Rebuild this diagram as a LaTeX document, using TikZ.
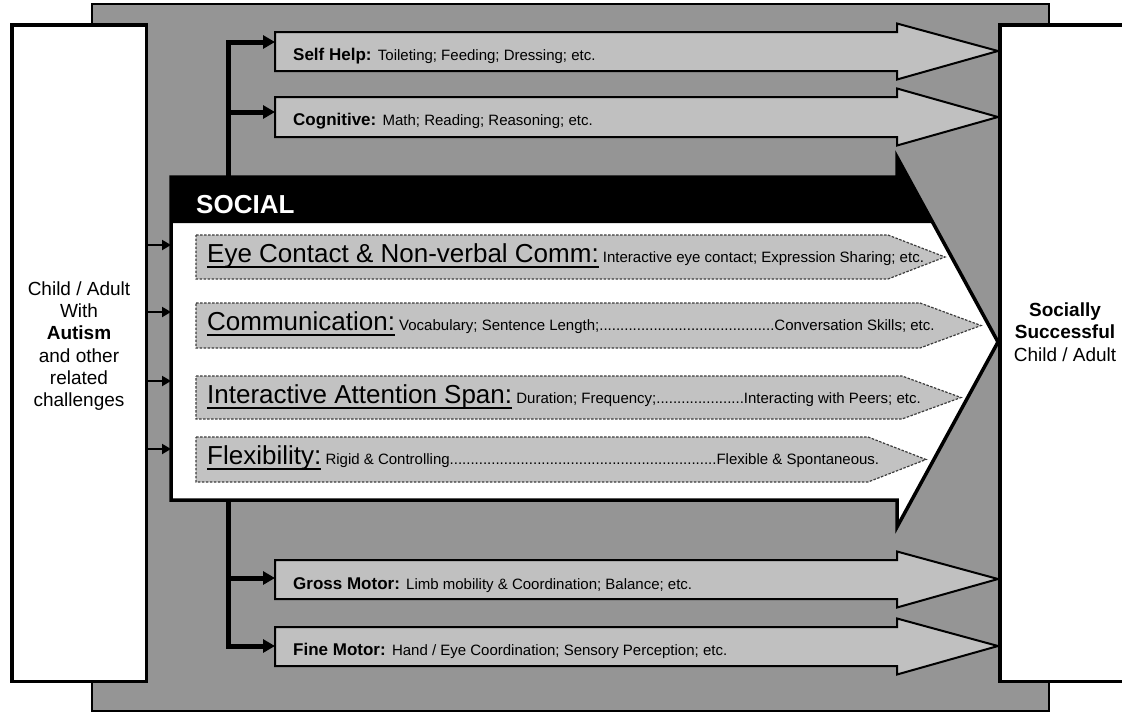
\documentclass[tikz,border=0pt]{standalone}
\usepackage{fontspec}
\setmainfont{Liberation Sans}
\usetikzlibrary{arrows.meta}
\definecolor{framegray}{HTML}{959595}
\definecolor{armgray}{HTML}{C0C0C0}
\definecolor{sigfill}{HTML}{C2C2C2}
\definecolor{sigedge}{HTML}{3C3C3C}
\newcommand\myul[1]{\setbox0\hbox{#1}\rlap{\rule[-5.75pt]{\wd0}{1.6pt}}\box0}
\newcommand\headfont{\fontsize{26}{28}\selectfont}
\newcommand\detfont{\fontsize{15}{17}\selectfont}
\newcommand\armfont{\bfseries\fontsize{17}{19}\selectfont}
\newcommand\drawarm[3]{\draw[armline] (275,#1) -- (897,#1) -- (897,#1-8.5) -- (998,#3) -- (897,#2+8.5) -- (897,#2) -- (275,#2) -- cycle;}
\newcommand\drawsig[4]{\draw[sigline] (196,#1) -- (#3,#1) -- (#4,{(#1+#2)/2}) -- (#3,#2) -- (196,#2) -- cycle;}
\begin{document}
\begin{tikzpicture}[x=1pt,y=-1pt,
  sidebox/.style={draw=black, line width=3.5pt, fill=white, inner sep=0},
  coltext/.style={align=center, font=\fontsize{19}{22.3}\selectfont, inner sep=0},
  armline/.style={draw=black, line width=2pt, fill=armgray, line join=miter},
  sigline/.style={draw=sigedge, line width=1.2pt, dash pattern=on 2.5pt off 1.5pt, fill=sigfill},
  rowtext/.style={anchor=base west, inner sep=0},
  branch/.style={line width=5pt, -{Triangle[length=12pt,width=13pt]}},
  feed/.style={line width=2pt, -{Triangle[length=9pt,width=10pt]}}]
\useasboundingbox (0,0) rectangle (1122,713);
% background frame
\draw[line width=1.2pt, fill=framegray] (92,4) rectangle (1049,711);
% side boxes
\node[sidebox, minimum width=134.5pt, minimum height=656.5pt] (child) at (79,353) {};
\node[sidebox, minimum width=140pt, minimum height=656.5pt] (adult) at (1069.75,353) {};
\node[coltext] (childtxt) at (79,346) {Child / Adult\\With\\\textbf{Autism}\\and other\\related\\challenges};
\node[coltext] (adulttxt) at (1065,332) {\textbf{Socially}\\\textbf{Successful}\\Child / Adult};
% domain arrows
\drawarm{32}{71}{51}
\drawarm{97}{137}{117}
\drawarm{560}{599}{579}
\drawarm{627}{666}{646}
% connection points
\coordinate (socTop) at (228.5,177);
\coordinate (socBot) at (228.5,500);
\coordinate (shIn) at (275,42);
\coordinate (cogIn) at (275,112);
\coordinate (gmIn) at (275,578);
\coordinate (fmIn) at (275,646);
\draw[branch] (socTop) |- (shIn);
\draw[branch] (socTop) |- (cogIn);
\draw[branch] (socBot) |- (gmIn);
\draw[branch] (socBot) |- (fmIn);
% social arrow
\fill[white] (171,177) -- (897,177) -- (897,157) -- (998,342) -- (897,527) -- (897,500) -- (171,500) -- cycle;
\fill[black] (171,177) -- (897,177) -- (897,157) -- (933,223) -- (171,223) -- cycle;
\drawsig{235}{279}{888}{945}
\drawsig{303}{348}{920}{981}
\drawsig{376}{419}{902}{961}
\drawsig{437}{482}{868}{926}
\draw[line width=3.5pt, line join=miter] (171,177) -- (897,177) -- (897,157) -- (998,342) -- (897,527) -- (897,500) -- (171,500) -- cycle;
\node[rowtext, text=white, font=\bfseries\fontsize{26}{28}\selectfont] (social) at (196,213) {SOCIAL};
% feed arrows
\coordinate (in1) at (171,245);
\coordinate (in2) at (171,312);
\coordinate (in3) at (171,381);
\coordinate (in4) at (171,449);
\draw[feed] (child.east |- in1) -- (in1);
\draw[feed] (child.east |- in2) -- (in2);
\draw[feed] (child.east |- in3) -- (in3);
\draw[feed] (child.east |- in4) -- (in4);
% social rows text
\node[rowtext] (eyetxt) at (207,262) {\myul{\headfont Eye Contact \& Non-verbal Comm:}\detfont{} Interactive eye contact; Expression Sharing; etc.};
\node[rowtext] (commtxt) at (207,330) {\myul{\headfont Communication:}\detfont{} Vocabulary; Sentence Length;..........................................Conversation Skills; etc.};
\node[rowtext] (iastxt) at (207,403) {\myul{\headfont Interactive Attention Span:}\detfont{} Duration; Frequency;.....................Interacting with Peers; etc.};
\node[rowtext] (flextxt) at (207,464) {\myul{\headfont Flexibility:}\detfont{} Rigid \& Controlling................................................................Flexible \& Spontaneous.};
% domain texts
\node[rowtext] (shtxt) at (293,60) {\armfont Self Help: \mdseries\detfont Toileting; Feeding; Dressing; etc.};
\node[rowtext] (cogtxt) at (293,125) {\armfont Cognitive: \mdseries\detfont Math; Reading; Reasoning; etc.};
\node[rowtext] (gmtxt) at (293,589) {\armfont Gross Motor: \mdseries\detfont Limb mobility \& Coordination; Balance; etc.};
\node[rowtext] (fmtxt) at (293,655) {\armfont Fine Motor: \mdseries\detfont Hand / Eye Coordination; Sensory Perception; etc.};
\end{tikzpicture}
\end{document}
